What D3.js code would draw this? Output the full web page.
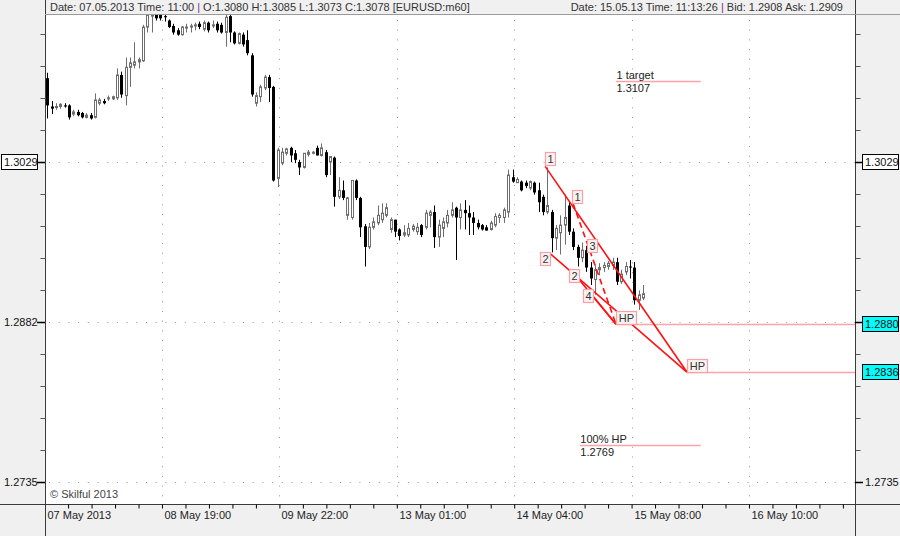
<!DOCTYPE html>
<html><head><meta charset="utf-8">
<script src="https://cdn.jsdelivr.net/npm/d3@7"></script>
<style>body{margin:0;background:#f0f0f0}svg{display:block}text{font-family:"Liberation Sans",Arial,sans-serif}</style>
</head><body><svg id="c" width="900" height="536"></svg>
<script>
// ---- data (EURUSD H1) ----
const opens = [
1.3106,1.3080,1.3079,1.3080,1.3081,1.3081,1.3073,1.3075,1.3074,1.3070,
1.3072,1.3070,1.3083,1.3085,1.3087,1.3087,1.3088,1.3109,1.3090,1.3116,
1.3118,1.3121,1.3122,1.3153,1.3163,1.3165,1.3165,1.3163,1.3159,1.3154,
1.3150,1.3146,1.3152,1.3153,1.3154,1.3156,1.3151,1.3157,1.3154,1.3156,
1.3155,1.3148,1.3163,1.3148,1.3138,1.3146,1.3141,1.3127,1.3083,1.3089,
1.3097,1.3107,1.3098,1.3014,1.3028,1.3037,1.3042,1.3037,1.3029,1.3024,
1.3036,1.3037,1.3042,1.3035,1.3038,1.3029,1.3033,1.2997,1.3003,1.2980,
1.2978,1.3012,1.2996,1.2970,1.2951,1.2969,1.2973,1.2976,1.2980,1.2967,
1.2976,1.2967,1.2962,1.2962,1.2967,1.2965,1.2971,1.2969,1.2980,1.2983,
1.2960,1.2968,1.2973,1.2980,1.2987,1.2978,1.2985,1.2982,1.2978,1.2973,
1.2971,1.2969,1.2967,1.2971,1.2978,1.2978,1.2983,1.3015,1.3010,1.3011,
1.3010,1.3005,1.3010,1.3003,1.2997,1.2983,1.2983,1.2959,1.2964,1.2971,
1.2989,1.2965,1.2951,1.2941,1.2948,1.2932,1.2921,1.2930,1.2932,1.2933,
1.2934,1.2937,1.2919,1.2928,1.2933,1.2932,1.2902,1.2904];
const highs = [
1.3111,1.3085,1.3083,1.3083,1.3083,1.3082,1.3077,1.3077,1.3075,1.3074,
1.3074,1.3092,1.3088,1.3087,1.3090,1.3090,1.3115,1.3112,1.3125,1.3125,
1.3139,1.3125,1.3155,1.3167,1.3167,1.3169,1.3167,1.3165,1.3160,1.3156,
1.3152,1.3154,1.3156,1.3156,1.3157,1.3158,1.3159,1.3158,1.3159,1.3158,
1.3157,1.3165,1.3165,1.3149,1.3148,1.3148,1.3150,1.3129,1.3093,1.3100,
1.3109,1.3109,1.3099,1.3042,1.3042,1.3042,1.3043,1.3040,1.3031,1.3037,
1.3040,1.3039,1.3044,1.3046,1.3040,1.3034,1.3034,1.3015,1.3012,1.2997,
1.3012,1.3013,1.2997,1.2972,1.2973,1.2978,1.2989,1.2991,1.2991,1.2978,
1.2976,1.2968,1.2971,1.2973,1.2972,1.2973,1.2972,1.2985,1.2985,1.2989,
1.2976,1.2978,1.2985,1.2992,1.2988,1.2991,1.2994,1.2989,1.2983,1.2976,
1.2972,1.2971,1.2975,1.2982,1.2982,1.2987,1.3022,1.3022,1.3015,1.3012,
1.3012,1.3012,1.3011,1.3010,1.2999,1.3024,1.2985,1.2971,1.2980,1.2999,
1.2992,1.2968,1.2953,1.2955,1.2952,1.2937,1.2934,1.2936,1.2937,1.2938,
1.2941,1.2941,1.2930,1.2937,1.2939,1.2937,1.2911,1.2916];
const lows = [
1.3069,1.3073,1.3077,1.3078,1.3079,1.3068,1.3071,1.3071,1.3069,1.3069,
1.3068,1.3069,1.3081,1.3082,1.3085,1.3086,1.3086,1.3088,1.3081,1.3098,
1.3115,1.3115,1.3121,1.3148,1.3148,1.3159,1.3159,1.3158,1.3152,1.3146,
1.3145,1.3145,1.3148,1.3148,1.3150,1.3151,1.3149,1.3148,1.3152,1.3148,
1.3147,1.3135,1.3139,1.3137,1.3137,1.3135,1.3127,1.3089,1.3080,1.3084,
1.3095,1.3084,1.3011,1.3006,1.3026,1.3035,1.3029,1.3028,1.3017,1.3023,
1.3034,1.3036,1.3035,1.3034,1.3015,1.3017,1.2988,1.2995,1.2994,1.2976,
1.2976,1.2994,1.2960,1.2933,1.2949,1.2967,1.2971,1.2973,1.2978,1.2964,
1.2960,1.2957,1.2960,1.2960,1.2965,1.2962,1.2960,1.2967,1.2969,1.2950,
1.2951,1.2960,1.2969,1.2978,1.2939,1.2967,1.2967,1.2962,1.2962,1.2967,
1.2966,1.2966,1.2966,1.2969,1.2973,1.2973,1.2978,1.3010,1.3010,1.3002,
1.3005,1.3003,1.2999,1.2983,1.2980,1.2981,1.2946,1.2948,1.2944,1.2953,
1.2962,1.2948,1.2933,1.2937,1.2928,1.2916,1.2907,1.2925,1.2928,1.2930,
1.2930,1.2916,1.2917,1.2925,1.2922,1.2898,1.2893,1.2902];
const closes = [
1.3081,1.3078,1.3080,1.3082,1.3080,1.3070,1.3075,1.3072,1.3070,1.3072,
1.3069,1.3086,1.3086,1.3083,1.3088,1.3089,1.3109,1.3091,1.3116,1.3120,
1.3121,1.3123,1.3153,1.3164,1.3164,1.3161,1.3161,1.3162,1.3153,1.3148,
1.3146,1.3153,1.3153,1.3154,1.3155,1.3153,1.3157,1.3150,1.3155,1.3150,
1.3148,1.3162,1.3148,1.3138,1.3147,1.3137,1.3129,1.3091,1.3090,1.3098,
1.3107,1.3097,1.3012,1.3040,1.3038,1.3041,1.3035,1.3031,1.3024,1.3037,
1.3038,1.3038,1.3035,1.3042,1.3017,1.3034,1.2997,1.3003,1.2996,1.2996,
1.3012,1.2996,1.2969,1.2951,1.2969,1.2974,1.2980,1.2982,1.2987,1.2976,
1.2965,1.2961,1.2964,1.2968,1.2970,1.2969,1.2962,1.2982,1.2983,1.2960,
1.2971,1.2974,1.2980,1.2985,1.2978,1.2985,1.2982,1.2978,1.2973,1.2969,
1.2967,1.2966,1.2973,1.2979,1.2980,1.2985,1.3017,1.3011,1.3013,1.3003,
1.3007,1.3011,1.3001,1.2992,1.2983,1.2989,1.2959,1.2968,1.2971,1.2978,
1.2965,1.2951,1.2941,1.2948,1.2932,1.2922,1.2930,1.2932,1.2934,1.2936,
1.2937,1.2919,1.2926,1.2933,1.2932,1.2902,1.2907,1.2908];

const timeTickIndex = [0, 27, 54, 81, 108, 135, 162];
const timeTickLabels = ["07 May 2013","08 May 19:00","09 May 22:00","13 May 01:00","14 May 04:00","15 May 08:00","16 May 10:00"];
const priceGrid = [1.2735, 1.2882, 1.3029];
const leftLabels = ["1.2735","1.2882","1.3029"];
const priceMinorStep = 0.00294;

// pattern annotation values: [barIndex, price]
const patternLabels = [
  ["1", 114.5, 1.3026], ["1", 120.7, 1.2991], ["2", 113.3, 1.2934], ["2", 120.0, 1.2919],
  ["3", 124.1, 1.2946], ["4", 123.2, 1.2900], ["HP", 130.8, 1.2880], ["HP", 147.1, 1.2836]
];
const patternLines = [
  [[114.5, 1.3025], [147.1, 1.2836], false],
  [[115.6, 1.2945], [147.1, 1.2836], false],
  [[122.1, 1.2922], [130.8, 1.2880], false],
  [[124.8, 1.2909], [130.8, 1.2880], false],
  [[120.9, 1.2991], [130.8, 1.2880], true]
];
const levelLines = [ // [fromIndex, toIndex(null = edge), price]
  [130.8, 150.3, 1.3103], [122.5, 150.3, 1.2769], [130.8, null, 1.2880], [147.1, null, 1.2836]
];
const levelTexts = [["1 target","1.3107",130.9,1.3103],["100% HP","1.2769",122.6,1.2769]];
const rightBoxes = [["1.3029",1.3029,"#ffffff"],["1.2880",1.2880,"#00ffff"],["1.2836",1.2836,"#00ffff"]];

// ---- drawing ----
const W=900,H=536, L=45, R=855, T=14, B=504;
const svg=d3.select('#c');
svg.append('rect').attr('width',W).attr('height',H).attr('fill','#f0f0f0');
svg.append('rect').attr('x',L).attr('y',T).attr('width',R-L).attr('height',B-T).attr('fill','#fff');

const x=d3.scaleLinear().domain([0,162]).range([47.3,47.3+162*4.348]);
const y=d3.scaleLinear().domain([1.2735,1.3029]).range([482,162]);
const slotOff=-2.7;
const gx = t => Math.round(x(t)+slotOff)+0.5;

const clip=svg.append('clipPath').attr('id','pc').append('rect').attr('x',L+1).attr('y',T+1).attr('width',R-L-1).attr('height',B-T-1);
const g=svg.append('g').attr('clip-path','url(#pc)');

// grid
g.selectAll('.hg').data(priceGrid).join('line')
 .attr('x1',L+4).attr('x2',R).attr('y1',d=>Math.round(y(d))+0.5).attr('y2',d=>Math.round(y(d))+0.5)
 .attr('stroke','#9a9a9a').attr('stroke-dasharray','1,8.7');
g.selectAll('.vg').data(timeTickIndex.slice(1)).join('line')
 .attr('x1',gx).attr('x2',gx).attr('y1',T+6).attr('y2',B)
 .attr('stroke','#9a9a9a').attr('stroke-dasharray','1,8.7');

// candles
const idx=d3.range(opens.length);
const cx=i=>Math.round(x(i))+0.5;
g.selectAll('.wick').data(idx).join('line')
 .attr('x1',cx).attr('x2',cx).attr('y1',i=>y(highs[i])).attr('y2',i=>y(lows[i]))
 .attr('stroke',i=>closes[i]>=opens[i]?'#6e6e6e':'#000').attr('stroke-width',1);
g.selectAll('.body').data(idx).join('rect')
 .attr('x',i=>closes[i]>=opens[i]?cx(i)-1:cx(i)-1.5)
 .attr('width',i=>closes[i]>=opens[i]?2:3)
 .attr('y',i=>y(Math.max(opens[i],closes[i])))
 .attr('height',i=>Math.max(1,Math.abs(y(opens[i])-y(closes[i]))))
 .attr('fill',i=>closes[i]>=opens[i]?'#fff':'#000')
 .attr('stroke',i=>closes[i]>=opens[i]?'#6e6e6e':'none');

// level lines
g.selectAll('.lvl').data(levelLines).join('line')
 .attr('x1',d=>x(d[0])).attr('x2',d=>d[1]==null?R:x(d[1]))
 .attr('y1',d=>Math.round(y(d[2]))+0.5).attr('y2',d=>Math.round(y(d[2]))+0.5)
 .attr('stroke','#ffa3a8').attr('stroke-width',1.5);
levelTexts.forEach(d=>{
  const yy=y(d[3]);
  g.append('text').attr('x',x(d[2])).attr('y',yy-2).attr('font-size',11).attr('fill','#222').text(d[0]);
  g.append('text').attr('x',x(d[2])).attr('y',yy+11).attr('font-size',11).attr('fill','#222').text(d[1]);
});

// pattern lines
g.selectAll('.pl').data(patternLines).join('line')
 .attr('x1',d=>x(d[0][0])).attr('y1',d=>y(d[0][1])).attr('x2',d=>x(d[1][0])).attr('y2',d=>y(d[1][1]))
 .attr('stroke','#ff1010').attr('stroke-width',1.6).attr('stroke-dasharray',d=>d[2]?'6,4':null);

// pattern labels
patternLabels.forEach(d=>{
  const w=d[0].length>1?20:10, h=13;
  const bx=Math.round(x(d[1]))+0.5, by=Math.round(y(d[2]))+0.5-h;
  g.append('rect').attr('x',bx).attr('y',by).attr('width',w).attr('height',h)
   .attr('fill','#f7f3f3').attr('stroke','#ff9ea4').attr('stroke-width',1.2);
  g.append('text').attr('x',bx+w/2).attr('y',by+h-2.5).attr('text-anchor','middle')
   .attr('font-size',11).attr('fill','#333').text(d[0]);
});

// frame lines
const fr=svg.append('g').attr('stroke','#3a3a3a').attr('stroke-width',1);
fr.append('line').attr('x1',L+0.5).attr('x2',L+0.5).attr('y1',0).attr('y2',H);
fr.append('line').attr('x1',R+0.5).attr('x2',R+0.5).attr('y1',0).attr('y2',H);
fr.append('line').attr('x1',L).attr('x2',W).attr('y1',T+0.5).attr('y2',T+0.5).attr('stroke','#9a9a9a');
fr.append('line').attr('x1',0).attr('x2',W).attr('y1',B+0.5).attr('y2',B+0.5);

// price axes (minor ticks)
const minor=d3.range(0,15).map(k=>priceGrid[0]+k*priceMinorStep);
const yAxL=d3.axisLeft(y).tickValues(minor).tickSize(5).tickFormat('');
const aL=svg.append('g').attr('transform',`translate(${L+0.5},0)`).call(yAxL);
const yAxR=d3.axisRight(y).tickValues(minor).tickSize(5).tickFormat('');
const aR=svg.append('g').attr('transform',`translate(${R+0.5},0)`).call(yAxR);
[aL,aR].forEach(a=>{a.select('.domain').remove();a.selectAll('line').attr('stroke','#555');});
// major ticks
priceGrid.forEach(p=>{
  const yy=Math.round(y(p))+0.5;
  svg.append('line').attr('x1',L-8).attr('x2',L).attr('y1',yy).attr('y2',yy).attr('stroke','#000').attr('stroke-width',1.5);
  svg.append('line').attr('x1',R).attr('x2',R+8).attr('y1',yy).attr('y2',yy).attr('stroke','#000').attr('stroke-width',1.5);
});
// left labels
priceGrid.forEach((p,k)=>{
  const yy=Math.round(y(p));
  if(k===2){
    svg.append('rect').attr('x',1.5).attr('y',yy-7.5).attr('width',36).attr('height',15).attr('fill','#fff').attr('stroke','#000');
  }
  svg.append('text').attr('x',4).attr('y',yy+4).attr('font-size',11).attr('fill','#111').text(leftLabels[k]);
});
// right labels
rightBoxes.forEach(d=>{
  const yy=Math.round(y(d[1]));
  svg.append('rect').attr('x',862.5).attr('y',yy-7.5).attr('width',36).attr('height',15).attr('fill',d[2]).attr('stroke','#000');
  svg.append('text').attr('x',865).attr('y',yy+4).attr('font-size',11).attr('fill','#111').text(d[0]);
});
svg.append('text').attr('x',865).attr('y',Math.round(y(1.2735))+4).attr('font-size',11).attr('fill','#111').text('1.2735');

// time axis
const xT=d3.scaleLinear().domain(x.domain()).range(x.range().map(v=>v+slotOff));
const xAx=d3.axisBottom(xT).tickValues(d3.range(5.4,190,5.4)).tickSize(4).tickFormat('');
const aB=svg.append('g').attr('transform',`translate(0,${B+0.5})`).call(xAx);
aB.select('.domain').remove(); aB.selectAll('line').attr('stroke','#000');
aB.selectAll('.tick').filter(d=>d>xT.domain()[0]+0 && xT(d)>R).remove();
svg.selectAll('.tl').data(timeTickIndex).join('text')
 .attr('x',d=>gx(d)+2).attr('y',519).attr('font-size',11).attr('fill','#222')
 .text((d,k)=>timeTickLabels[k]);

// header & footer texts
const hdr=svg.append('text').attr('x',50).attr('y',11).attr('font-size',11).attr('fill','#333');
hdr.append('tspan').text('Date: 07.05.2013 Time: 11:00 ');
hdr.append('tspan').attr('fill','#7030a0').text('|');
hdr.append('tspan').text(' O:1.3080 H:1.3085 L:1.3073 C:1.3078  [EURUSD:m60]');
const hdr2=svg.append('text').attr('x',843).attr('y',11).attr('font-size',11).attr('fill','#333').attr('text-anchor','end');
hdr2.append('tspan').text('Date: 15.05.13 Time: 11:13:26 ');
hdr2.append('tspan').attr('fill','#7030a0').text('|');
hdr2.append('tspan').text(' Bid: 1.2908 Ask: 1.2909');
svg.append('text').attr('x',50).attr('y',498).attr('font-size',11).attr('fill','#444').text('\u00a9 Skilful 2013');
</script></body></html>
